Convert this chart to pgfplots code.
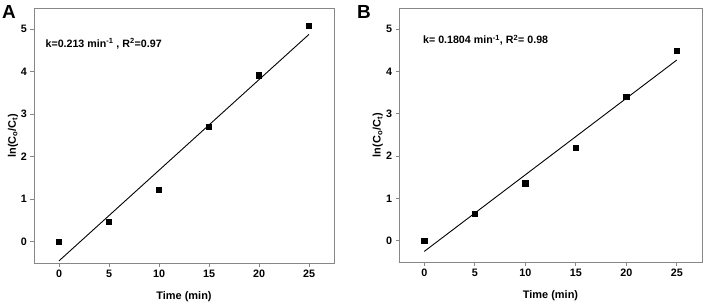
\documentclass[border=0pt]{standalone}
\usepackage{pgfplots}
\pgfplotsset{compat=1.18}
\usepackage{fontspec}
\setmainfont{Liberation Sans}
\definecolor{axgray}{RGB}{135,135,135}
\pgfplotsset{
  kin/.style={
    scale only axis,
    width=300bp, height=255bp,
    xmin=-2.5, xmax=27.5, ymin=-0.5, ymax=5.5,
    xtick={0,5,...,25}, ytick={0,1,...,5},
    tick align=outside, xtick pos=bottom, ytick pos=left,
    major tick length=3.5bp,
    axis line style={axgray, line width=0.8bp},
    every tick/.style={axgray, line width=0.8bp},
    /pgf/number format/assume math mode=true,
    tick label style={font=\bfseries\fontsize{10.8}{12}\selectfont},
    label style={font=\bfseries\fontsize{11}{12}\selectfont},
    xlabel={Time (min)},
    ylabel={ln(C\textsubscript{o}/C\textsubscript{t})},
    xlabel style={at={(axis description cs:0.5,-0.133)},anchor=center},
    ylabel style={at={(axis description cs:-0.07,0.5)},anchor=center},
    clip=false,
  },
  pts/.style={only marks, mark=square*, mark size=2.6bp, black},
  fit/.style={no marks, black, line width=0.9bp},
}
\begin{document}
\begin{tikzpicture}[x=1bp,y=1bp]
\path (0,0) rectangle (706,307);
\node[anchor=north west, font=\bfseries\fontsize{19}{20}\selectfont, inner sep=0pt] at (2,302) {A};
\node[anchor=north west, font=\bfseries\fontsize{19}{20}\selectfont, inner sep=0pt] at (357,302) {B};
\begin{axis}[kin, at={(34bp,44bp)}, anchor=south west]
\addplot[fit] coordinates {(0,-0.45) (25,4.88)};
\addplot[pts] coordinates {(0,0) (5,0.47) (10,1.22) (15,2.70) (20,3.92) (25,5.08)};
\node[anchor=base west, font=\bfseries\fontsize{10.7}{12}\selectfont, inner sep=0pt] at (axis cs:-1.36,4.56) {k=0.213 min\textsuperscript{-1} , R\textsuperscript{2}=0.97};
\end{axis}
\begin{axis}[kin, at={(399bp,45bp)}, anchor=south west, width=303bp, height=254bp]
\addplot[fit] coordinates {(0,-0.25) (25,4.27)};
\addplot[pts] coordinates {(0,0) (5,0.65) (10,1.36) (15,2.20) (20,3.40) (25,4.50)};
\node[anchor=base west, font=\bfseries\fontsize{10.7}{12}\selectfont, inner sep=0pt] at (axis cs:-0.13,4.65) {k= 0.1804 min\textsuperscript{-1}, R\textsuperscript{2}= 0.98};
\end{axis}
\end{tikzpicture}
\end{document}
